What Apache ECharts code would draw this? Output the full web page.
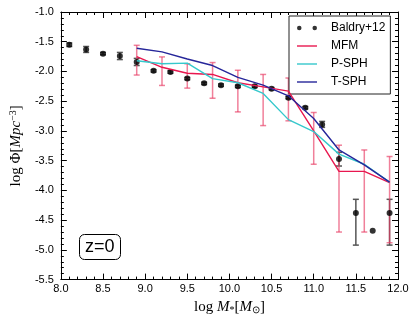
<!DOCTYPE html>
<html>
<head>
<meta charset="utf-8">
<script src="https://cdn.jsdelivr.net/npm/echarts@6/dist/echarts.min.js"></script>
<style>
  html, body { margin: 0; padding: 0; background: #fff; }
  #chart { width: 415px; height: 320px; }
</style>
</head>
<body>
<div id="chart"></div>
<script>
// observations (Baldry+12)
var obsMass = [8.1, 8.3, 8.5, 8.7, 8.9, 9.1, 9.3, 9.5, 9.7, 9.9, 10.1, 10.3, 10.5, 10.7, 10.9, 11.1, 11.3, 11.5, 11.7, 11.9]
var obsPhi = [-1.55, -1.63, -1.70, -1.74, -1.84, -1.99, -2.01, -2.12, -2.20, -2.23, -2.25, -2.25, -2.29, -2.44, -2.61, -2.89, -3.47, -4.38, -4.68, -4.38]
var obsLow = [-1.58, -1.68, -1.72, -1.80, -1.90, -2.01, -2.03, -2.14, -2.22, -2.25, -2.27, -2.27, -2.31, -2.46, -2.63, -2.94, -3.59, -4.92, null, -4.92]
var obsHigh = [-1.52, -1.58, -1.68, -1.68, -1.78, -1.97, -1.99, -2.10, -2.18, -2.21, -2.23, -2.23, -2.27, -2.42, -2.59, -2.84, -3.36, -4.15, null, -4.15]

// simulations
var simMass = [8.9, 9.2, 9.5, 9.8, 10.1, 10.4, 10.7, 11.0, 11.3, 11.6, 11.9]
var mfm = [-1.75, -1.93, -2.03, -2.05, -2.19, -2.26, -2.33, -3.00, -3.68, -3.68, -3.87]
var mfmLow = [-2.06, -2.235, -2.28, -2.45, -2.68, -2.91, -2.83, -3.56, -4.70, -4.70, -4.88]
var mfmHigh = [-1.56, -1.755, -1.87, -1.85, -1.98, -2.05, -2.11, -2.69, -3.24, -3.32, -3.43]
var psph = [-1.82, -1.87, -1.86, -2.12, -2.19, -2.37, -2.81, -3.01, -3.39, -3.56, -3.86]
var tsph = [-1.61, -1.67, -1.79, -1.90, -2.10, -2.23, -2.41, -2.79, -3.32, -3.57, -3.86]

var chart = echarts.init(document.getElementById('chart'))

function pairs(xs, ys) {
	return xs.map(function (x, i) { return [x, ys[i]] })
}
function bars(xs, lo, hi) {
	var out = []
	xs.forEach(function (x, i) {
		if (lo[i] != null) out.push([x, lo[i], hi[i]])
	})
	return out
}
function errorBar(color, cap, width) {
	return function (params, api) {
		var x = api.value(0)
		var p1 = api.coord([x, api.value(1)])
		var p2 = api.coord([x, api.value(2)])
		var st = { stroke: color, lineWidth: width }
		return {
			type: 'group',
			children: [
				{ type: 'line', shape: { x1: p1[0], y1: p1[1], x2: p2[0], y2: p2[1] }, style: st },
				{ type: 'line', shape: { x1: p1[0] - cap, y1: p1[1], x2: p1[0] + cap, y2: p1[1] }, style: st },
				{ type: 'line', shape: { x1: p2[0] - cap, y1: p2[1], x2: p2[0] + cap, y2: p2[1] }, style: st }
			]
		}
	}
}

var tickFont = { fontFamily: 'Liberation Sans', fontSize: 11, color: '#000' }
var serif = 'Liberation Serif'
var lineIcon = 'path://M0,0H20V1.4H0Z'

function axisBase(min, max) {
	return {
		type: 'value',
		min: min,
		max: max,
		interval: 0.5,
		splitLine: { show: false },
		axisLine: { show: true, onZero: false, lineStyle: { color: '#000', width: 1 } },
		axisTick: { show: true, inside: true, length: 6, lineStyle: { color: '#000' } },
		minorTick: { show: true, splitNumber: 5, length: 3, lineStyle: { color: '#000' } }
	}
}

var xMain = Object.assign(axisBase(8, 12), {
	position: 'bottom',
	axisLabel: Object.assign({ margin: 4, formatter: function (v) { return v.toFixed(1) } }, tickFont),
	name: '{n|log }{i|M}{sub|*}{n|[}{i|M}{sub|⊙}{n|]}',
	nameLocation: 'middle',
	nameGap: 13,
	nameTextStyle: {
		rich: {
			n: { fontFamily: serif, fontSize: 15, color: '#000' },
			i: { fontFamily: serif, fontSize: 15, fontStyle: 'italic', color: '#000' },
			sub: { fontFamily: serif, fontSize: 10, color: '#000', padding: [6, 0, 0, 0] }
		}
	}
})
var xTop = Object.assign(axisBase(8, 12), { position: 'top', axisLabel: { show: false } })
var yMain = Object.assign(axisBase(-5.5, -1), {
	position: 'left',
	axisLabel: Object.assign({ margin: 7, formatter: function (v) { return v.toFixed(1) } }, tickFont),
	name: '{n|log }{n|Φ}{n|[}{i|Mpc}{sup|−3}{n|]}',
	nameLocation: 'middle',
	nameRotate: 90,
	nameGap: 32,
	nameTextStyle: {
		rich: {
			n: { fontFamily: serif, fontSize: 15, color: '#000' },
			i: { fontFamily: serif, fontSize: 15, fontStyle: 'italic', color: '#000' },
			sup: { fontFamily: serif, fontSize: 10, color: '#000', padding: [0, 0, 7, 0] }
		}
	}
})
var yRight = Object.assign(axisBase(-5.5, -1), { position: 'right', axisLabel: { show: false } })

chart.setOption({
	animation: false,
	backgroundColor: '#fff',
	grid: { left: 51, right: 17, top: 12, bottom: 40 },
	xAxis: [xMain, xTop],
	yAxis: [yMain, yRight],
	title: {
		text: 'z=0',
		left: 79,
		top: 234,
		padding: [4, 6, 4, 6],
		borderWidth: 1,
		borderColor: '#000',
		borderRadius: 5,
		textStyle: { fontFamily: 'Liberation Sans', fontSize: 18, fontWeight: 'normal', color: '#000' }
	},
	legend: {
		orient: 'vertical',
		left: 289,
		top: 16,
		padding: [5, 5, 5, 8],
		itemWidth: 20,
		itemHeight: 14,
		itemGap: 4,
		backgroundColor: '#fff',
		borderColor: '#222',
		borderWidth: 1,
		textStyle: { fontFamily: 'Liberation Sans', fontSize: 12, color: '#000', lineHeight: 14, padding: [0, 0, 0, 9] },
		data: [
			{ name: 'Baldry+12', icon: 'path://M0,2.5A2.5,2.5 0 1,0 5,2.5A2.5,2.5 0 1,0 0,2.5ZM17,2.5A2.5,2.5 0 1,0 22,2.5A2.5,2.5 0 1,0 17,2.5Z' },
			{ name: 'MFM', icon: lineIcon },
			{ name: 'P-SPH', icon: lineIcon },
			{ name: 'T-SPH', icon: lineIcon }
		]
	},
	series: [
		{
			type: 'custom',
			name: 'obsErr',
			renderItem: errorBar('#555', 3, 1.5),
			encode: { x: 0, y: [1, 2] },
			data: bars(obsMass, obsLow, obsHigh),
			z: 2
		},
		{
			type: 'custom',
			name: 'mfmErr',
			renderItem: errorBar('rgba(232,60,100,0.65)', 3, 1.5),
			encode: { x: 0, y: [1, 2] },
			data: bars(simMass, mfmLow, mfmHigh),
			z: 2
		},
		{
			name: 'Baldry+12',
			type: 'scatter',
			symbol: 'circle',
			symbolSize: 6,
			itemStyle: { color: '#000' },
			data: pairs(obsMass, obsPhi),
			z: 3
		},
		{
			name: 'MFM',
			type: 'line',
			symbol: 'none',
			lineStyle: { color: '#e8174f', width: 1.4 },
			itemStyle: { color: '#e8174f' },
			data: pairs(simMass, mfm),
			z: 4
		},
		{
			name: 'P-SPH',
			type: 'line',
			symbol: 'none',
			lineStyle: { color: '#35c8cc', width: 1.4 },
			itemStyle: { color: '#35c8cc' },
			data: pairs(simMass, psph),
			z: 4
		},
		{
			name: 'T-SPH',
			type: 'line',
			symbol: 'none',
			lineStyle: { color: '#26269a', width: 1.4 },
			itemStyle: { color: '#26269a' },
			data: pairs(simMass, tsph),
			z: 4
		}
	]
})
</script>
</body>
</html>
